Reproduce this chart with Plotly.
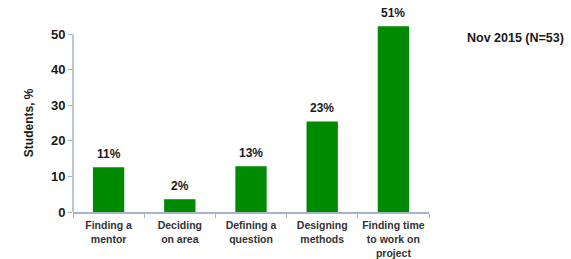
import plotly.graph_objects as go

categories = ["Finding a<br>mentor", "Deciding<br>on area", "Defining a<br>question", "Designing<br>methods", "Finding time<br>to work on<br>project"]
bar_values = [12.6, 3.6, 12.9, 25.5, 52.3]
labels = ["11%", "2%", "13%", "23%", "51%"]
y_ticks = [0, 10, 20, 30, 40, 50]
axis_max = 50

FONT = "Liberation Sans, Arial"
AXIS_COLOR = "#A6B4C8"

fig = go.Figure()
fig.add_trace(go.Bar(x=categories, y=bar_values, marker=dict(color="#008A00", line=dict(width=0)), width=0.44))

for c, v, t in zip(categories, bar_values, labels):
    fig.add_annotation(x=c, y=v, text="<b>%s</b>" % t, showarrow=False, yshift=13,
                       xanchor="center", yanchor="middle",
                       font=dict(family=FONT, size=12, color="#1a1a1a"))

fig.add_annotation(xref="paper", yref="paper", x=1.101, y=0.874, xanchor="left", yanchor="middle",
                   text="<b>Nov 2015 (N=53)</b>", showarrow=False,
                   font=dict(family=FONT, size=12.5, color="#1a1a1a"))

# y axis title centered on the 0-50 span
fig.add_annotation(xref="paper", yref="y", x=0, y=axis_max / 2, xshift=-44, textangle=-90,
                   xanchor="center", yanchor="middle",
                   text="<b>Students, %</b>", showarrow=False,
                   font=dict(family=FONT, size=12, color="#1a1a1a"))

# y axis line only from 0 to 50
fig.add_shape(type="line", xref="paper", yref="y", x0=0, x1=0, y0=0, y1=axis_max,
              line=dict(color=AXIS_COLOR, width=1.5))

fig.update_layout(
    template="none",
    width=571, height=259,
    margin=dict(l=73, r=142, t=13, b=47),
    paper_bgcolor="white", plot_bgcolor="white",
    showlegend=False,
    font=dict(family=FONT, color="#1a1a1a"),
)
fig.update_xaxes(automargin=False, showline=True, linecolor=AXIS_COLOR, linewidth=1.5, ticks="outside", ticklen=4,
                 tickcolor=AXIS_COLOR, tickson="boundaries", showgrid=False,
                 tickfont=dict(size=10.5, color="#333333"), tickangle=0, ticklabelstandoff=3,
                 ticktext=["<b>%s</b>" % c for c in categories], tickvals=categories)
fig.update_yaxes(automargin=False, range=[0, 56], tickvals=y_ticks, ticktext=["<b>%d</b>" % v for v in y_ticks],
                 showline=False, ticks="outside", ticklen=4,
                 tickcolor=AXIS_COLOR, showgrid=False, zeroline=False,
                 tickfont=dict(size=13, color="#1a1a1a"))

fig.write_html("out.html", config={"displayModeBar": False},
               post_script="document.body.style.margin='0';document.body.style.overflow='hidden';")
